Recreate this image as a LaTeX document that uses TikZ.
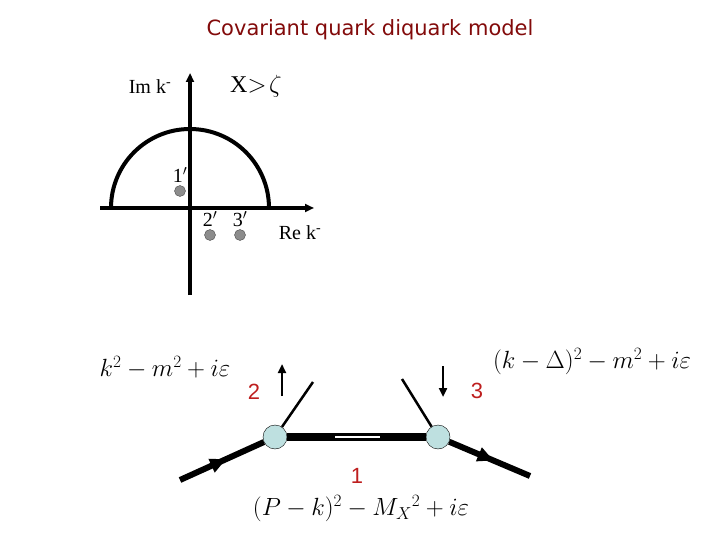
\documentclass[tikz,border=0pt]{standalone}
\usepackage{amsmath}
\usepackage{fontspec}
\setmainfont{Liberation Serif}
\newfontfamily\arialfont{Liberation Sans}
\newfontfamily\comicfont{DejaVu Sans}
\usetikzlibrary{arrows.meta,decorations.markings,positioning}
\definecolor{dotblue}{RGB}{190,224,224}
\definecolor{numred}{RGB}{190,30,30}
\definecolor{titlered}{RGB}{130,10,10}
\begin{document}
\begin{tikzpicture}[x=1pt,y=-1pt,
	axis/.style={line width=3.5pt, -{Triangle[length=9pt,width=8pt]}},
	pole/.style={circle, draw=black!70, fill=black!45, inner sep=0pt, minimum size=11pt},
	vertex/.style={circle, draw=black, fill=dotblue, inner sep=0pt, minimum size=24pt},
	midarrow/.style={line width=6pt, postaction={decorate}, decoration={markings, mark=at position 0.55 with {\arrow{Triangle[length=16pt,width=14pt]}}}},
	num/.style={font=\arialfont\fontsize{22}{22}\selectfont, text=numred}]
	\useasboundingbox (0,0) rectangle (720,540);
	\node at (370,30) (title) {\comicfont\fontsize{21}{21}\selectfont\color{titlered} Covariant quark diquark model};
	% contour plane
	\coordinate (o) at (190,208);
	\coordinate (ybot) at (190,295);
	\coordinate (ytop) at (190,73);
	\coordinate (xl) at (100,208);
	\coordinate (xr) at (314,208);
	\draw [axis] (ybot) -- (ytop);
	\draw [axis] (xl) -- (xr);
	\draw [line width=4pt] (111,208) arc (180:360:79);
	\node at (180,191) [pole] (p1) {};
	\node at (210,235) [pole] (p2) {};
	\node at (240,235) [pole] (p3) {};
	\node [above=-1pt of p1] (l1) {\fontsize{20}{20}\selectfont 1$'$};
	\node [above=-1pt of p2] (l2) {\fontsize{20}{20}\selectfont 2$'$};
	\node [above=-1pt of p3] (l3) {\fontsize{20}{20}\selectfont 3$'$};
	\node at (300,233) (re) {\fontsize{20}{20}\selectfont Re k$^{\text{-}}$};
	\node at (150,87) (im) {\fontsize{20}{20}\selectfont Im k$^{\text{-}}$};
	\node at (256,86) (xz) {\fontsize{24}{24}\selectfont X$>\!\zeta$};
	% triangle diagram
	\node at (275,437) [vertex] (v1) {};
	\node at (438,437) [vertex] (v2) {};
	\coordinate (in) at (180,480);
	\coordinate (out) at (530,476);
	\coordinate (q2) at (313,382);
	\coordinate (q3) at (402,379);
	\draw [line width=8pt] (v1) -- (v2);
	\draw [white, line width=1.5pt] (335,437) -- (380,437);
	\draw [midarrow] (in) -- (v1);
	\draw [midarrow] (v2) -- (out);
	\draw [line width=2.5pt] (v1) -- (q2);
	\draw [line width=2.5pt] (v2) -- (q3);
	\coordinate (a2s) at (282,396);
	\coordinate (a2e) at (282,364);
	\coordinate (a3s) at (443,366);
	\coordinate (a3e) at (443,397);
	\draw [line width=2.5pt, -{Triangle[length=9pt,width=8pt]}] (a2s) -- (a2e);
	\draw [line width=2.5pt, -{Triangle[length=9pt,width=8pt]}] (a3s) -- (a3e);
	\node at (254,392) [num] (n2) {2};
	\node at (477,391) [num] (n3) {3};
	\node at (357,476) [num] (n1) {1};
	\node at (165,367) (prop2) {\fontsize{25}{25}\selectfont $k^2-m^2+i\varepsilon$};
	\node at (592,362) (prop3) {\fontsize{25}{25}\selectfont $(k-\Delta)^2-m^2+i\varepsilon$};
	\node at (361,509) (prop1) {\fontsize{25}{25}\selectfont $(P-k)^2-M_X{}^2+i\varepsilon$};
\end{tikzpicture}
\end{document}
